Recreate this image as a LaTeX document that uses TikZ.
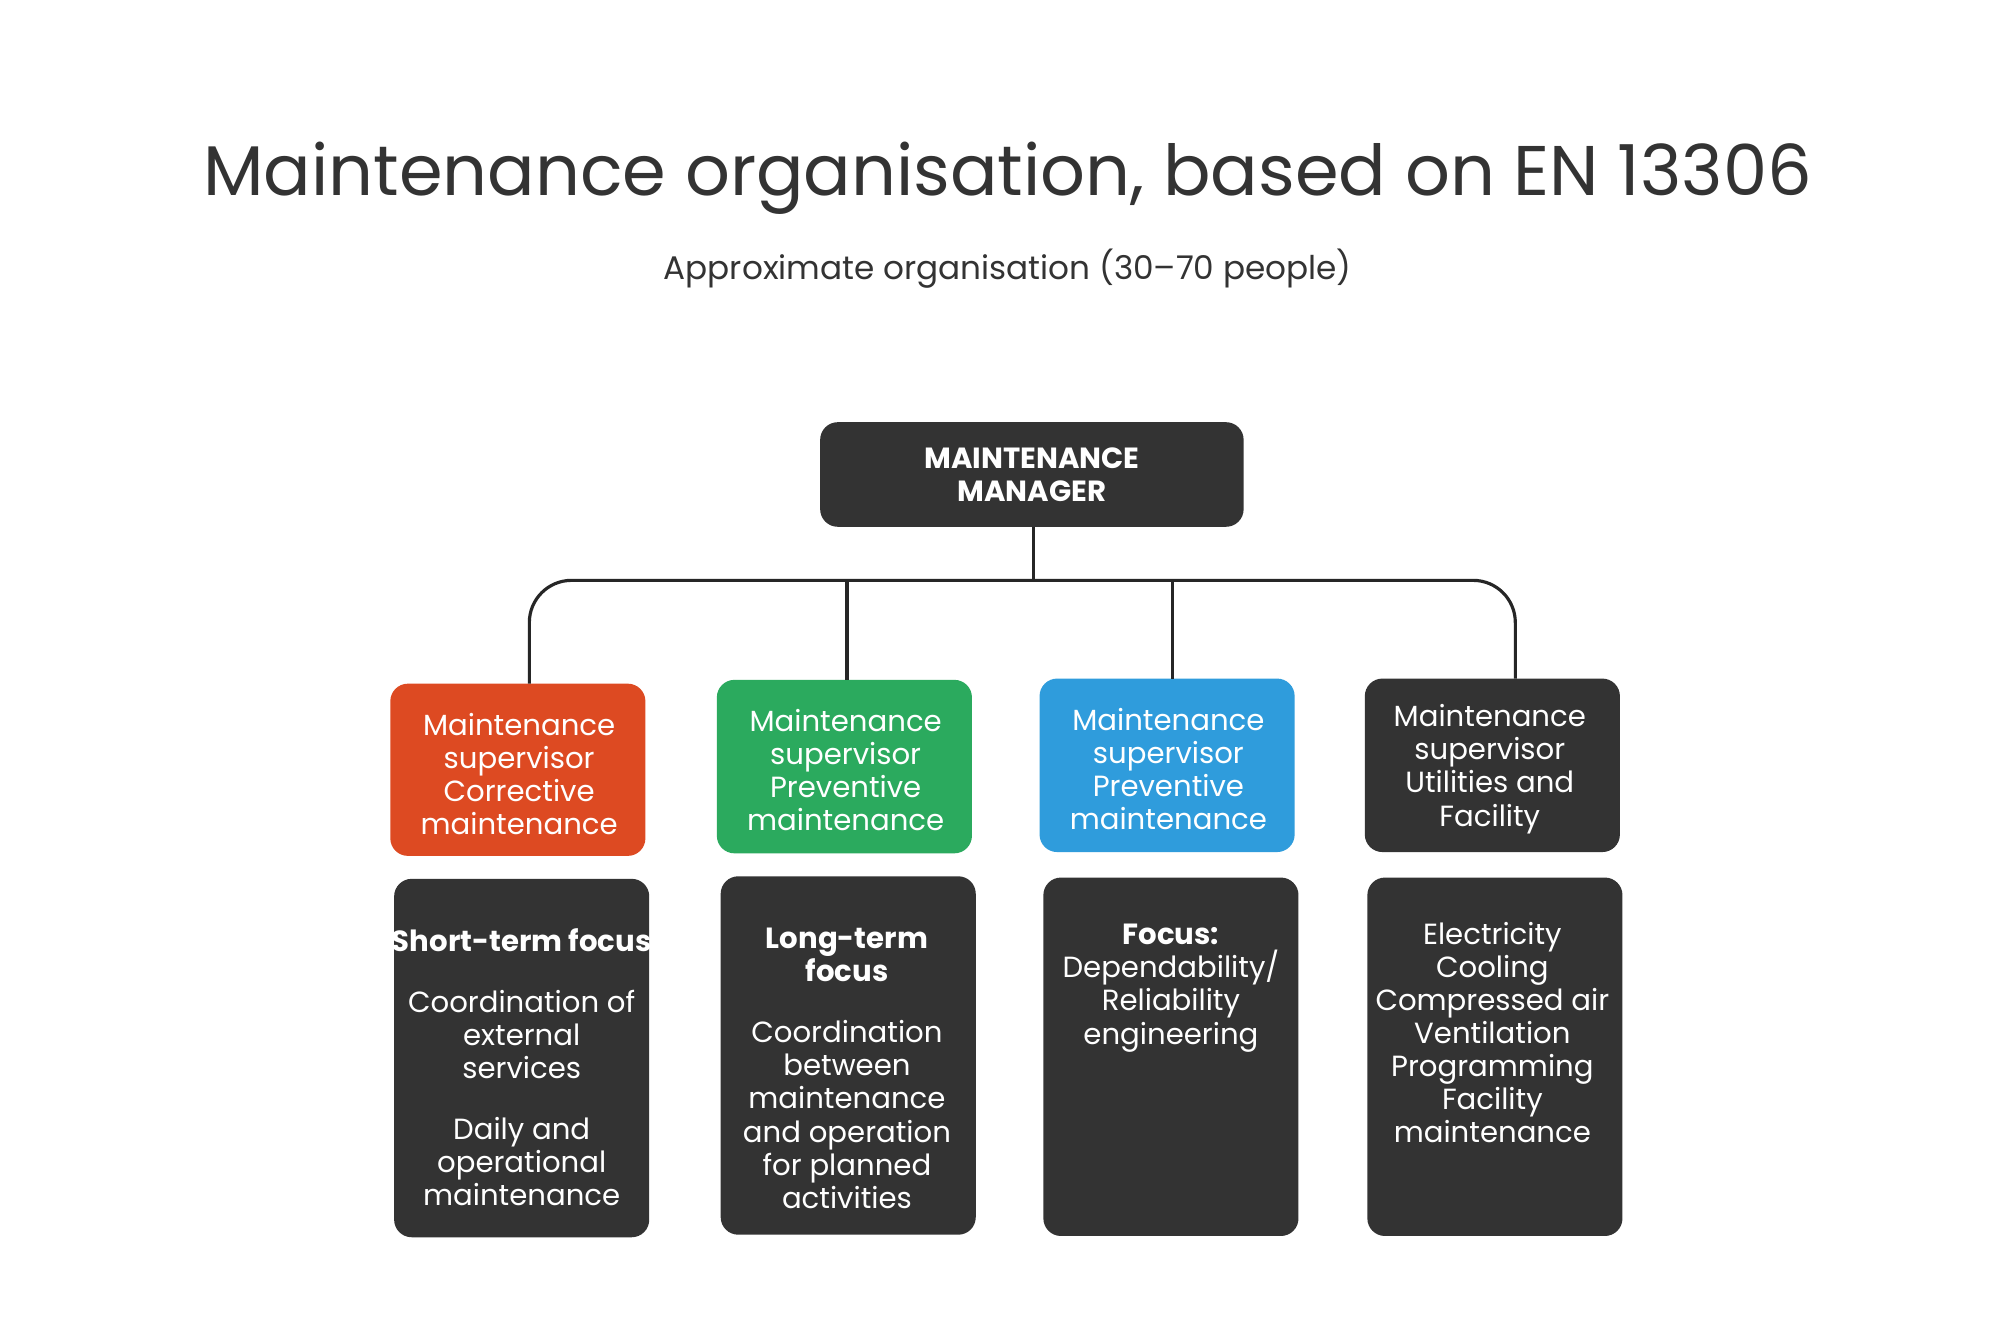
\documentclass[tikz,border=0pt]{standalone}
\usepackage{fontspec}
\setmainfont{Poppins}
\begin{document}
\begin{tikzpicture}[x=0.012755cm,y=-0.012755cm,
  box/.style={rounded corners=5pt,inner sep=0pt},
  txt/.style={text=white,align=center,font=\fontsize{8.3}{9.4}\selectfont},
  conn/.style={line width=0.9pt,draw=black!85}]
\definecolor{dark}{HTML}{333333}
\definecolor{cred}{HTML}{DD4A22}
\definecolor{cgreen}{HTML}{2BAA5E}
\definecolor{cblue}{HTML}{2F9CDC}
\useasboundingbox (0,0) rectangle (1568,1045);
\fill[white] (0,0) rectangle (1568,1045);
\node[text=dark,font=\fontsize{20}{24}\selectfont] (title) at (790,140) {Maintenance organisation, based on EN 13306};
\node[text=dark,font=\fontsize{9.3}{11}\selectfont] (sub) at (790,211) {Approximate organisation (30–70 people)};
% manager
\fill[dark,box] (643,331) rectangle (975,413);
\node[txt,font=\fontsize{8.3}{9.4}\selectfont\bfseries,minimum width=332\pgflinewidth] (mgr) at (809,372) {MAINTENANCE\\MANAGER};
\coordinate (mgrb) at (810,413);
\coordinate (bus) at (810,455);
% supervisors
\fill[cred,box] (306,536) rectangle (506,671);
\fill[cgreen,box] (562,533) rectangle (762,669);
\fill[cblue,box] (815,532) rectangle (1015,668);
\fill[dark,box] (1070,532) rectangle (1270,668);
\coordinate (t1) at (415,536);
\coordinate (t2) at (664,533);
\coordinate (t3) at (919,532);
\coordinate (t4) at (1188,532);
\node[txt] (s1) at (407,607) {Maintenance\\supervisor\\Corrective\\maintenance};
\node[txt] (s2) at (663,604) {Maintenance\\supervisor\\Preventive\\maintenance};
\node[txt] (s3) at (916,603) {Maintenance\\supervisor\\Preventive\\maintenance};
\node[txt] (s4) at (1168,603) {Maintenance\\supervisor\\Utilities and\\Facility};
\draw[conn,rounded corners=12pt] (t1) |- (bus) -| (t4);
\draw[conn] (mgrb) -- (bus);
\draw[conn] (t2) -- (t2|-bus);
\draw[conn] (t3) -- (t3|-bus);
% detail boxes
\fill[dark,box] (309,689) rectangle (509,970);
\fill[dark,box] (565,687) rectangle (765,968);
\fill[dark,box] (818,688) rectangle (1018,969);
\fill[dark,box] (1072,688) rectangle (1272,969);
\node[txt,anchor=north] (d1) at (409,718) {\textbf{Short-term focus}\\[8pt]Coordination of\\external\\services\\[8pt]Daily and\\operational\\maintenance};
\node[txt,anchor=north] (d2) at (664,718) {\textbf{Long-term}\\\textbf{focus}\\[8pt]Coordination\\between\\maintenance\\and operation\\for planned\\activities};
\node[txt,anchor=north] (d3) at (918,715) {\textbf{Focus:}\\Dependability/\\Reliability\\engineering};
\node[txt,anchor=north] (d4) at (1170,713) {Electricity\\Cooling\\Compressed air\\Ventilation\\Programming\\Facility\\maintenance};
\end{tikzpicture}
\end{document}
